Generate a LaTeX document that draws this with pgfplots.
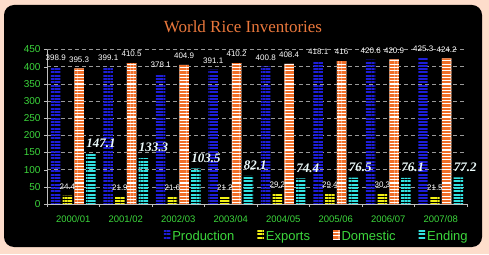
\documentclass[border=0pt]{standalone}
\usepackage{fontspec}
\setmainfont{Liberation Sans}
\newfontfamily\serif{Liberation Serif}
\usepackage{pgfplots}
\pgfplotsset{compat=1.18}
\usetikzlibrary{patterns.meta}
\definecolor{peach}{RGB}{253,221,203}
\definecolor{prodblue}{RGB}{30,30,215}
\definecolor{expyellow}{RGB}{240,240,20}
\definecolor{domorange}{RGB}{240,110,40}
\definecolor{endcyan}{RGB}{50,225,225}
\definecolor{lgreen}{RGB}{60,215,60}
\definecolor{titleorange}{RGB}{235,120,60}
\definecolor{axgray}{RGB}{190,190,190}
\definecolor{labwhite}{RGB}{235,250,250}
\begin{document}
\begin{tikzpicture}
\fill[peach] (0pt,0pt) rectangle (489pt,254pt);
\fill[black, rounded corners=10pt] (4pt,7pt) rectangle (482pt,249pt);
\path[use as bounding box] (0pt,0pt) rectangle (489pt,254pt);
\node[font=\serif\fontsize{17}{17}\selectfont, text=titleorange, anchor=base] at (243pt,221pt) {World Rice Inventories};
\begin{axis}[
  at={(47pt,50pt)}, anchor=south west,
  scale only axis, width=420pt, height=154.5pt,
  xmin=-0.5, xmax=7.5, ymin=0, ymax=450,
  ybar=2.2pt, bar width=9.5pt,
  axis lines*=left,
  axis line style={draw=axgray},
  ytick={0,50,...,450},
  yticklabel style={text=lgreen, font=\fontsize{10}{10}\selectfont},
  /pgf/number format/assume math mode=true,
  ymajorgrids, grid style={draw=gray!80, dash pattern=on 4pt off 3pt},
  xtick={0,...,7},
  xticklabels={2000/01,2001/02,2002/03,2003/04,2004/05,2005/06,2006/07,2007/08},
  xticklabel style={text=lgreen, font=\fontsize{9.5}{10}\selectfont, yshift=-5pt},
  major x tick style={draw=none},
  minor xtick={-0.5,0.5,...,7.5},
  tick style={draw=axgray},
  tick align=outside,
  major tick length=3pt, minor tick length=3pt,
  clip=false,
  point meta=explicit symbolic,
  legend columns=4,
  legend style={at={(1.014,-0.214)}, anchor=east, draw=none, fill=none,
    text=lgreen, font=\fontsize{13}{13}\selectfont,
    nodes={text height=9.5pt, text depth=2.5pt},
    /tikz/every even column/.append style={column sep=21pt}},
  legend image code/.code={\path[#1] (0pt,-2.5pt) rectangle (6.5pt,7pt);},
  small/.style={nodes near coords, every node near coord/.append style={text=white, font=\fontsize{8}{8}\selectfont, anchor=south, inner sep=0pt, yshift=6pt}},
]
\addplot[draw=none, pattern={Lines[angle=0,distance=3.3pt,line width=2pt]}, pattern color=prodblue, small]
  coordinates {(0,398.9)[398.9] (1,399.1)[399.1] (2,378.1)[378.1] (3,391.1)[391.1] (4,400.8)[400.8] (5,418.1)[418.1] (6,420.6)[420.6] (7,425.3)[425.3]};
\addplot[draw=none, pattern={Lines[angle=0,distance=3.3pt,line width=2pt]}, pattern color=expyellow, small]
  coordinates {(0,24.4)[24.4] (1,21.9)[21.9] (2,21.6)[21.6] (3,21.2)[21.2] (4,29.2)[29.2] (5,29.4)[29.4] (6,30.3)[30.3] (7,21.5)[21.5]};
\addplot[draw=none, fill=white, postaction={pattern={Lines[angle=0,distance=3.3pt,line width=2.2pt]}, pattern color=domorange}, small]
  coordinates {(0,395.3)[395.3] (1,410.5)[410.5] (2,404.9)[404.9] (3,410.2)[410.2] (4,408.4)[408.4] (5,416)[416] (6,420.9)[420.9] (7,424.2)[424.2]};
\addplot[draw=none, pattern={Lines[angle=0,distance=3.3pt,line width=2pt]}, pattern color=endcyan,
  nodes near coords, every node near coord/.append style={text=labwhite, font=\serif\bfseries\itshape\fontsize{13}{13}\selectfont, anchor=south west, inner sep=0pt, xshift=-4.75pt, yshift=6pt}]
  coordinates {(0,147.1)[147.1] (1,133.3)[133.3] (2,103.5)[103.5] (3,82.1)[82.1] (4,74.4)[74.4] (5,76.5)[76.5] (6,76.1)[76.1] (7,77.2)[77.2]};
\legend{Production,Exports,Domestic,Ending}
\end{axis}
\end{tikzpicture}
\end{document}
